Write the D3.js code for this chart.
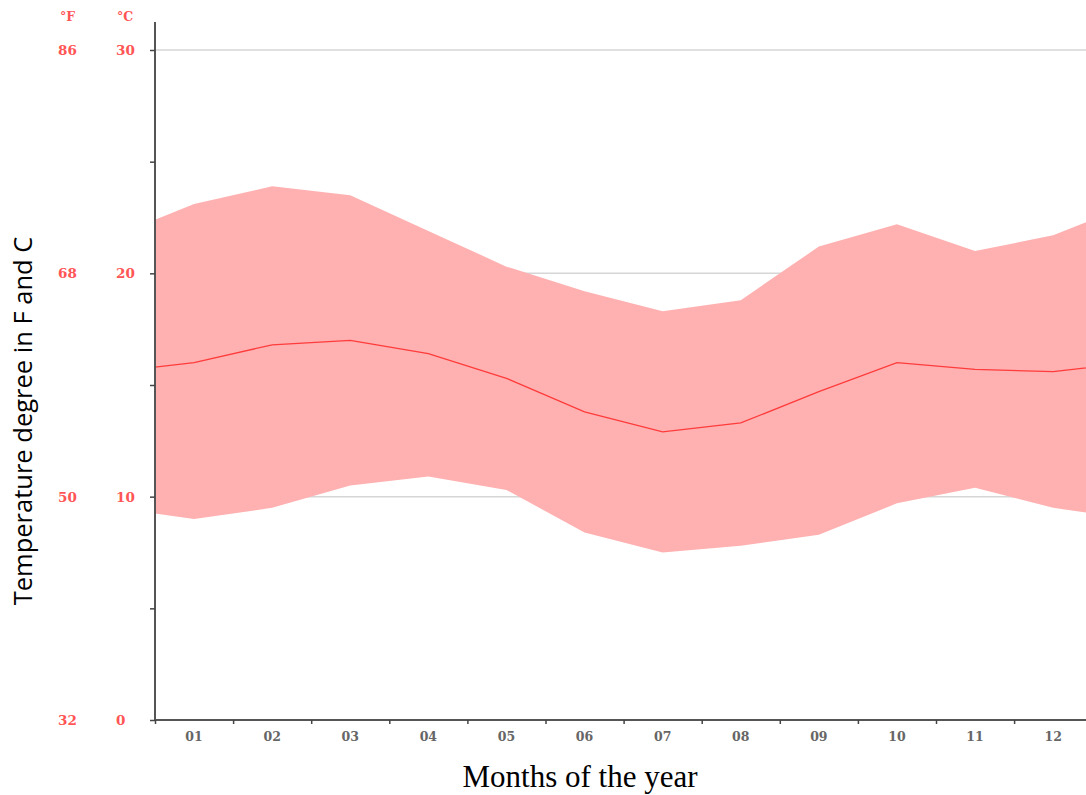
<!DOCTYPE html>
<html>
<head>
<meta charset="utf-8">
<script src="https://cdn.jsdelivr.net/npm/d3@7"></script>
<style>
  body { margin: 0; background: #fff; }
  svg { display: block; }
</style>
</head>
<body>
<svg id="chart" width="1086" height="795"></svg>
<script>
    // monthly temperatures, degrees C
    var months = ["01", "02", "03", "04", "05", "06", "07", "08", "09", "10", "11", "12"];
    var tMax = [23.1, 23.9, 23.5, 21.9, 20.3, 19.2, 18.3, 18.8, 21.2, 22.2, 21.0, 21.7];
    var tMean = [16.0, 16.8, 17.0, 16.4, 15.3, 13.8, 12.9, 13.3, 14.7, 16.0, 15.7, 15.6];
    var tMin = [9.0, 9.5, 10.5, 10.9, 10.3, 8.4, 7.5, 7.8, 8.3, 9.7, 10.4, 9.5];
    var celsiusTicks = [0, 10, 20, 30];
    var fahrenheitTicks = ["32", "50", "68", "86"];

    var svg = d3.select("#chart");
    var padL = 155, padT = 50, baseY = 720, step = 78.1, W = 1086;

    var x = d3.scaleLinear().domain([-0.5, 11.5]).range([padL, padL + 12 * step]);
    var y = d3.scaleLinear().domain([0, 30]).range([baseY, padT]);

    // wrap the year round so the band runs off both edges
    var pts = new Array();
    for (var i = -1; i <= 12; i++) {
        var k = (i + 12) % 12;
        pts.push({ i: i, hi: tMax[k], mid: tMean[k], lo: tMin[k] });
    }

    svg.append("clipPath").attr("id", "plot")
        .append("rect").attr("x", padL).attr("y", 0).attr("width", W - padL).attr("height", baseY);

    // grid lines
    svg.selectAll("line.grid")
        .data([10, 20, 30])
        .enter()
        .append("line")
            .attr("class", "grid")
            .attr("x1", padL).attr("x2", W)
            .attr("y1", function (d) { return y(d); })
            .attr("y2", function (d) { return y(d); })
            .attr("stroke", "#d6d6d6")
            .attr("stroke-width", 1.5);

    var g = svg.append("g").attr("clip-path", "url(#plot)");

    g.append("path")
        .datum(pts)
        .attr("d", d3.area()
            .x(function (d) { return x(d.i); })
            .y0(function (d) { return y(d.lo); })
            .y1(function (d) { return y(d.hi); }))
        .attr("fill", "#ffb1b1");

    g.append("path")
        .datum(pts)
        .attr("d", d3.line()
            .x(function (d) { return x(d.i); })
            .y(function (d) { return y(d.mid); }))
        .attr("fill", "none")
        .attr("stroke", "#ff3b3b")
        .attr("stroke-width", 1.3);

    // axes
    var yAxis = d3.axisLeft(y).tickValues(d3.range(0, 31, 5)).tickSize(5).tickFormat("");
    var ya = svg.append("g").attr("transform", "translate(" + padL + ",0)").call(yAxis);
    ya.select(".domain").attr("d", "M0," + (padT - 28) + "V" + baseY);

    var xAxis = d3.axisBottom(x).tickValues(d3.range(-0.5, 12, 1)).tickSize(4).tickFormat("");
    var xa = svg.append("g").attr("transform", "translate(0," + baseY + ")").call(xAxis);
    xa.select(".domain").attr("d", "M" + padL + ",0H" + W);

    svg.selectAll(".domain").attr("stroke", "#555").attr("stroke-width", 2);
    svg.selectAll(".tick line").attr("stroke", "#444").attr("stroke-width", 1.5);

    svg.selectAll("text.month")
        .data(months)
        .enter()
        .append("text")
            .attr("class", "month")
            .attr("x", function (d, i) { return x(i); })
            .attr("y", 741)
            .attr("text-anchor", "middle")
            .attr("font-family", "DejaVu Serif")
            .attr("font-weight", "bold")
            .attr("font-size", 12.5)
            .attr("fill", "#666")
            .text(function (d) { return d; });

    // temperature labels, both scales
    var red = "#ff5555";
    svg.selectAll("text.cel")
        .data(celsiusTicks)
        .enter()
        .append("text")
            .attr("class", "cel")
            .attr("x", 116)
            .attr("y", function (d) { return y(d) + 5; })
            .attr("font-family", "DejaVu Serif")
            .attr("font-weight", "bold")
            .attr("font-size", 13.5)
            .attr("fill", red)
            .text(function (d) { return d; });

    svg.selectAll("text.fah")
        .data(fahrenheitTicks)
        .enter()
        .append("text")
            .attr("class", "fah")
            .attr("x", 58)
            .attr("y", function (d, i) { return y(celsiusTicks[i]) + 5; })
            .attr("font-family", "DejaVu Serif")
            .attr("font-weight", "bold")
            .attr("font-size", 13.5)
            .attr("fill", red)
            .text(function (d) { return d; });

    svg.append("text").attr("x", 60).attr("y", 21)
        .attr("font-family", "DejaVu Serif").attr("font-weight", "bold").attr("font-size", 12.5)
        .attr("fill", red).text("°F");
    svg.append("text").attr("x", 117).attr("y", 21)
        .attr("font-family", "DejaVu Serif").attr("font-weight", "bold").attr("font-size", 12.5)
        .attr("fill", red).text("°C");

    // titles
    svg.append("text")
        .attr("transform", "translate(32,421) rotate(-90)")
        .attr("text-anchor", "middle")
        .attr("font-family", "Open Sans")
        .attr("font-size", 25.5)
        .attr("fill", "#000")
        .text("Temperature degree in F and C");

    svg.append("text")
        .attr("x", 580).attr("y", 787)
        .attr("text-anchor", "middle")
        .attr("font-family", "Liberation Serif")
        .attr("font-size", 31)
        .attr("fill", "#000")
        .text("Months of the year");
</script>
</body>
</html>
